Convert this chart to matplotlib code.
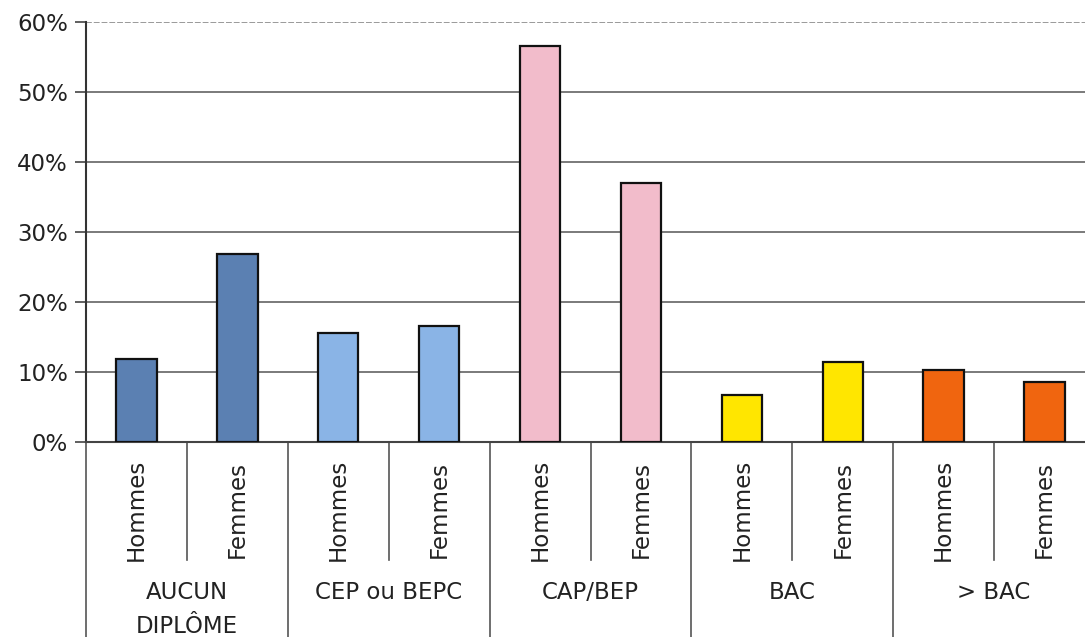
import matplotlib
matplotlib.use("Agg")
import matplotlib.pyplot as plt

# Data
groups = ["AUCUN\nDIPLÔME", "CEP ou BEPC", "CAP/BEP", "BAC", "> BAC"]
sexes = ["Hommes", "Femmes"]
hommes = [11.8, 15.6, 56.6, 6.7, 10.3]
femmes = [26.9, 16.6, 37.0, 11.4, 8.6]
colors = ["#5b80b2", "#8ab4e6", "#f2bccb", "#ffe600", "#f0650f"]
yticks = [0, 10, 20, 30, 40, 50, 60]
ytick_labels = ["0%", "10%", "20%", "30%", "40%", "50%", "60%"]

plt.rcParams['font.family'] = ['DejaVu Sans']

W, H = 1085, 637
fig = plt.figure(figsize=(W / 100, H / 100), dpi=100)
x0, x1, ybot, ytop = 86, 1095, 442, 22
ax = fig.add_axes([x0 / W, (H - ybot) / H, (x1 - x0) / W, (ybot - ytop) / H])

fs = 16.5
for g in range(len(groups)):
    for s, vals in enumerate([hommes, femmes]):
        xc = 2 * g + s + 0.5
        ax.bar(xc, vals[g], width=0.4, color=colors[g], edgecolor="#111111",
               linewidth=1.6, zorder=3)

ax.set_xlim(0, 10)
ax.set_ylim(0, 60)
ax.set_yticks(yticks)
ax.set_yticklabels(ytick_labels, fontsize=fs, color="#222222")
ax.tick_params(axis='y', length=8, width=1.2, color="#444444", pad=5)
ax.set_xticks([])
for yv in yticks[1:-1]:
    ax.axhline(yv, color="#7a7a7a", linewidth=1.4, zorder=1)
ax.axhline(60, color="#9a9a9a", linewidth=1.4, linestyle=(0, (3, 1)), zorder=1)

for sp in ["top", "right"]:
    ax.spines[sp].set_visible(False)
ax.spines["left"].set_color("#333333")
ax.spines["left"].set_linewidth(1.5)
ax.spines["bottom"].set_color("#444444")
ax.spines["bottom"].set_linewidth(1.5)

tr = ax.get_xaxis_transform()
h = ybot - ytop
def ay(py):
    return (ybot - py) / h

# separators
for g in range(len(groups) + 1):
    ax.plot([2 * g, 2 * g], [0, ay(660)], transform=tr, color="#555555",
            linewidth=1.2, clip_on=False)
for g in range(len(groups)):
    ax.plot([2 * g + 1, 2 * g + 1], [0, ay(560)], transform=tr, color="#555555",
            linewidth=1.2, clip_on=False)

# labels
for g, name in enumerate(groups):
    for s, sx in enumerate(sexes):
        ax.text(2 * g + s + 0.5, ay(510), sx, transform=tr, rotation=90,
                ha="center", va="center", fontsize=fs, color="#222222")
    ax.text(2 * g + 1, ay(581), name, transform=tr, ha="center", va="top",
            fontsize=fs, color="#222222", linespacing=1.6)

fig.savefig("out.png", dpi=100)
